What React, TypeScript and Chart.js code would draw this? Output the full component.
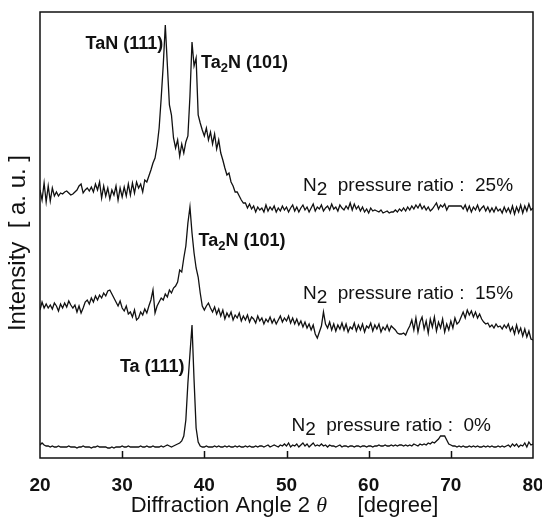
import React, { useEffect, useRef } from "react";
import { Chart, registerables } from "chart.js";

Chart.register(...registerables);

// Diffraction angle grid (degrees): first angle and spacing of the sampled points
const ANGLE_START = 20;
const ANGLE_STEP = 0.25;
const xTickValues = [20, 30, 40, 50, 60, 70, 80];

// Intensity [a.u.] (offset traces), one value per 0.25 degree from 20 to 80
const ratio25 = [
  268, 258, 275, 256, 272, 257, 270, 262, 266, 262, 265, 264, 266, 267, 265, 263,
  264, 266, 268, 272, 274, 265, 268, 270, 267, 271, 266, 274, 268, 276, 260, 272,
  262, 270, 259, 268, 263, 272, 258, 270, 261, 271, 262, 274, 263, 275, 265, 276,
  270, 274, 266, 278, 276, 282, 288, 295, 300, 312, 330, 360, 393, 433, 393, 353,
  343, 320, 310, 318, 302, 314, 305, 316, 322, 362, 416, 392, 400, 343, 335, 328,
  322, 330, 318, 326, 314, 324, 309, 318, 305, 298, 290, 283, 285, 276, 272, 266,
  266, 262, 258, 255, 255, 250, 254, 249, 252, 246, 251, 248, 250, 246, 253, 247,
  251, 248, 252, 246, 250, 247, 252, 248, 251, 246, 250, 253, 247, 251, 246, 250,
  253, 248, 251, 246, 250, 254, 247, 251, 249, 253, 247, 250, 252, 248, 254, 249,
  251, 247, 253, 250, 248, 252, 249, 255, 248, 254, 249, 252, 247, 251, 246, 249,
  245, 250, 247, 248, 247, 246, 248, 245, 246, 247, 245, 246, 246, 248, 246, 249,
  247, 250, 247, 251, 248, 252, 249, 253, 250, 254, 249, 252, 248, 251, 247, 249,
  252, 255, 249, 253, 251, 254, 248, 252, 252, 252, 252, 252, 252, 252, 249, 253,
  247, 252, 246, 251, 248, 253, 247, 250, 252, 247, 251, 246, 250, 246, 251, 247,
  249, 245, 251, 246, 250, 245, 252, 244, 251, 246, 253, 245, 252, 247, 254, 248,
  250,
];

const ratio15 = [
  148, 156, 150, 154, 150, 153, 149, 155, 152, 147, 154, 150, 155, 151, 157, 153,
  150, 153, 146, 152, 145, 150, 156, 158, 154, 160, 156, 162, 158, 163, 160, 165,
  162, 167, 168, 164, 160, 156, 152, 157, 150, 147, 152, 144, 146, 141, 148, 138,
  140, 146, 143, 149, 145, 152, 158, 168, 145, 152, 156, 160, 158, 164, 161, 168,
  165, 170, 172, 176, 188, 186, 200, 212, 235, 251, 225, 205, 190, 181, 165, 152,
  148, 152, 155, 150, 146, 151, 144, 149, 142, 148, 139, 145, 141, 146, 138, 143,
  140, 145, 137, 142, 138, 143, 136, 141, 139, 135, 142, 137, 140, 134, 139, 136,
  141, 135, 139, 134, 138, 142, 136, 140, 137, 142, 135, 140, 134, 139, 133, 137,
  131, 136, 130, 134, 128, 133, 124, 120, 126, 132, 146, 134, 130, 136, 128, 134,
  127, 133, 129, 135, 128, 134, 126, 131, 129, 135, 127, 133, 128, 134, 126, 132,
  130, 135, 127, 133, 129, 134, 126, 131, 128, 133, 127, 132, 130, 128, 125, 124,
  124, 125, 123, 128, 132, 138, 128, 140, 126, 136, 141, 129, 137, 125, 139, 131,
  141, 127, 136, 130, 139, 126, 134, 128, 137, 130, 140, 134, 136, 141, 146, 140,
  148, 143, 147, 141, 146, 140, 144, 139, 136, 134, 135, 131, 133, 130, 134, 131,
  132, 129, 133, 130, 134, 127, 131, 124, 133, 125, 130, 122, 129, 121, 127, 119,
  118,
];

const ratio0 = [
  13, 15, 13, 12, 12, 11, 12, 11, 11, 12, 11, 11, 11, 11, 12, 11,
  11, 11, 10, 11, 11, 12, 11, 11, 11, 10, 11, 11, 12, 11, 11, 11,
  11, 10, 10, 11, 10, 11, 11, 11, 12, 11, 11, 12, 11, 11, 11, 11,
  11, 12, 11, 11, 12, 11, 11, 12, 11, 11, 11, 12, 11, 12, 13, 12,
  11, 12, 13, 14, 15, 17, 22, 38, 75, 104, 133, 78, 30, 16, 12, 11,
  11, 12, 11, 11, 11, 12, 11, 12, 11, 11, 12, 11, 12, 11, 11, 12,
  11, 12, 11, 11, 12, 11, 12, 11, 11, 12, 11, 12, 12, 11, 12, 13,
  11, 12, 13, 12, 11, 13, 12, 14, 12, 15, 11, 13, 12, 14, 11, 13,
  15, 12, 14, 11, 13, 15, 12, 13, 12, 14, 12, 13, 11, 13, 12, 12,
  11, 12, 13, 11, 12, 12, 11, 12, 12, 11, 12, 12, 11, 12, 12, 11,
  12, 12, 11, 12, 12, 13, 12, 12, 13, 12, 12, 13, 12, 13, 12, 13,
  13, 12, 13, 12, 13, 12, 14, 13, 12, 14, 13, 14, 13, 15, 14, 16,
  15, 17, 19, 22, 22, 22, 18, 14, 13, 12, 12, 11, 12, 11, 12, 11,
  11, 12, 11, 12, 11, 12, 11, 11, 12, 11, 12, 11, 12, 11, 11, 12,
  11, 12, 11, 12, 13, 11, 14, 12, 14, 11, 13, 12, 15, 11, 16, 13,
  14,
];

const FONT = "'Liberation Sans', Arial, Helvetica, sans-serif";

type Seg = { text: string; font: string; dy?: number };

function drawRich(ctx: CanvasRenderingContext2D, segs: Seg[], x: number, y: number, align: "left" | "right" | "center") {
  let total = 0;
  const widths = segs.map((s) => {
    ctx.font = s.font;
    const w = ctx.measureText(s.text).width;
    total += w;
    return w;
  });
  let cx = align === "left" ? x : align === "right" ? x - total : x - total / 2;
  ctx.textAlign = "left";
  ctx.textBaseline = "alphabetic";
  segs.forEach((s, i) => {
    ctx.font = s.font;
    ctx.fillText(s.text, cx, y + (s.dy || 0));
    cx += widths[i];
  });
}

export default function App() {
  const canvasRef = useRef<HTMLCanvasElement | null>(null);

  useEffect(() => {
    const canvas = canvasRef.current;
    if (!canvas) return;

    const toPoints = (arr: number[]) => arr.map((v, i) => ({ x: ANGLE_START + i * ANGLE_STEP, y: v }));

    const labelBold = `bold 18px ${FONT}`;
    const subBold = `bold 13px ${FONT}`;
    const ratioFont = `19px ${FONT}`;

    const n2 = (pct: string): Seg[] => [
      { text: "N", font: ratioFont },
      { text: "2", font: ratioFont, dy: 4 },
      { text: "  pressure ratio :  " + pct, font: ratioFont },
    ];
    const ta2n: Seg[] = [
      { text: "Ta", font: labelBold },
      { text: "2", font: subBold, dy: 4 },
      { text: "N (101)", font: labelBold },
    ];

    const annotations: { segs: Seg[]; x: number; y: number; align: "left" | "right" | "center" }[] = [
      { segs: [{ text: "TaN (111)", font: labelBold }], x: 35.0, y: 409, align: "right" },
      { segs: ta2n, x: 39.6, y: 390, align: "left" },
      { segs: n2("25%"), x: 52.0, y: 267, align: "left" },
      { segs: ta2n, x: 39.3, y: 212, align: "left" },
      { segs: n2("15%"), x: 52.0, y: 159, align: "left" },
      { segs: [{ text: "Ta (111)", font: labelBold }], x: 37.6, y: 86, align: "right" },
      { segs: n2("0%"), x: 50.6, y: 27, align: "left" },
    ];

    const decor = {
      id: "decor",
      afterDraw(chart: any) {
        const { ctx, chartArea } = chart;
        const xs = chart.scales.x;
        const ys = chart.scales.y;
        ctx.save();
        ctx.strokeStyle = "#111";
        ctx.lineWidth = 1.5;
        ctx.strokeRect(chartArea.left, chartArea.top, chartArea.right - chartArea.left, chartArea.bottom - chartArea.top);
        // inward tick marks on the bottom axis
        xTickValues.forEach((v) => {
          if (v === xs.min || v === xs.max) return;
          const px = Math.round(xs.getPixelForValue(v)) + 0.5;
          ctx.beginPath();
          ctx.moveTo(px, chartArea.bottom);
          ctx.lineTo(px, chartArea.bottom - 7);
          ctx.stroke();
        });
        ctx.fillStyle = "#111";
        annotations.forEach((a) => {
          drawRich(ctx, a.segs, xs.getPixelForValue(a.x), ys.getPixelForValue(a.y), a.align);
        });
        // x axis title
        drawRich(
          ctx,
          [
            { text: "Diffraction Angle 2 ", font: `22px ${FONT}` },
            { text: "θ", font: `italic 22px 'Liberation Serif', serif` },
            { text: "     [degree]", font: `22px ${FONT}` },
          ],
          (chartArea.left + chartArea.right) / 2 - 2,
          512,
          "center"
        );
        // y axis title
        ctx.translate(25, (chartArea.top + chartArea.bottom) / 2 + 8);
        ctx.rotate(-Math.PI / 2);
        drawRich(ctx, [{ text: "Intensity  [ a. u. ]", font: `24px ${FONT}` }], 0, 0, "center");
        ctx.restore();
      },
    };

    const lineStyle = {
      borderColor: "#111",
      borderWidth: 1.3,
      pointRadius: 0,
      tension: 0,
      fill: false,
    };

    const chart = new Chart(canvas, {
      type: "line",
      data: {
        datasets: [
          { label: "25%", data: toPoints(ratio25), ...lineStyle },
          { label: "15%", data: toPoints(ratio15), ...lineStyle },
          { label: "0%", data: toPoints(ratio0), ...lineStyle },
        ],
      },
      options: {
        animation: false,
        responsive: false,
        layout: { padding: { top: 12, right: 9, left: 0, bottom: 0 } },
        plugins: { legend: { display: false }, tooltip: { enabled: false } },
        scales: {
          x: {
            type: "linear",
            min: 20,
            max: 80,
            afterBuildTicks: (scale: any) => {
              scale.ticks = xTickValues.map((v) => ({ value: v }));
            },
            ticks: {
              color: "#111",
              font: { family: FONT, size: 19, weight: "bold" },
              padding: 8,
              maxRotation: 0,
            },
            grid: { display: false },
            border: { display: false },
            afterFit: (scale: any) => {
              scale.height = 62;
              scale.paddingLeft = 0;
              scale.paddingRight = 0;
            },
          },
          y: {
            type: "linear",
            min: 0,
            max: 446,
            ticks: { display: false },
            grid: { display: false },
            border: { display: false },
            afterFit: (scale: any) => {
              scale.width = 40;
            },
          },
        },
      },
      plugins: [decor],
    } as any);

    return () => chart.destroy();
  }, []);

  return (
    <div style={{ position: "absolute", left: 0, top: 0, width: 542, height: 520, background: "#fff" }}>
      <canvas ref={canvasRef} width={542} height={520} style={{ display: "block" }} />
    </div>
  );
}
